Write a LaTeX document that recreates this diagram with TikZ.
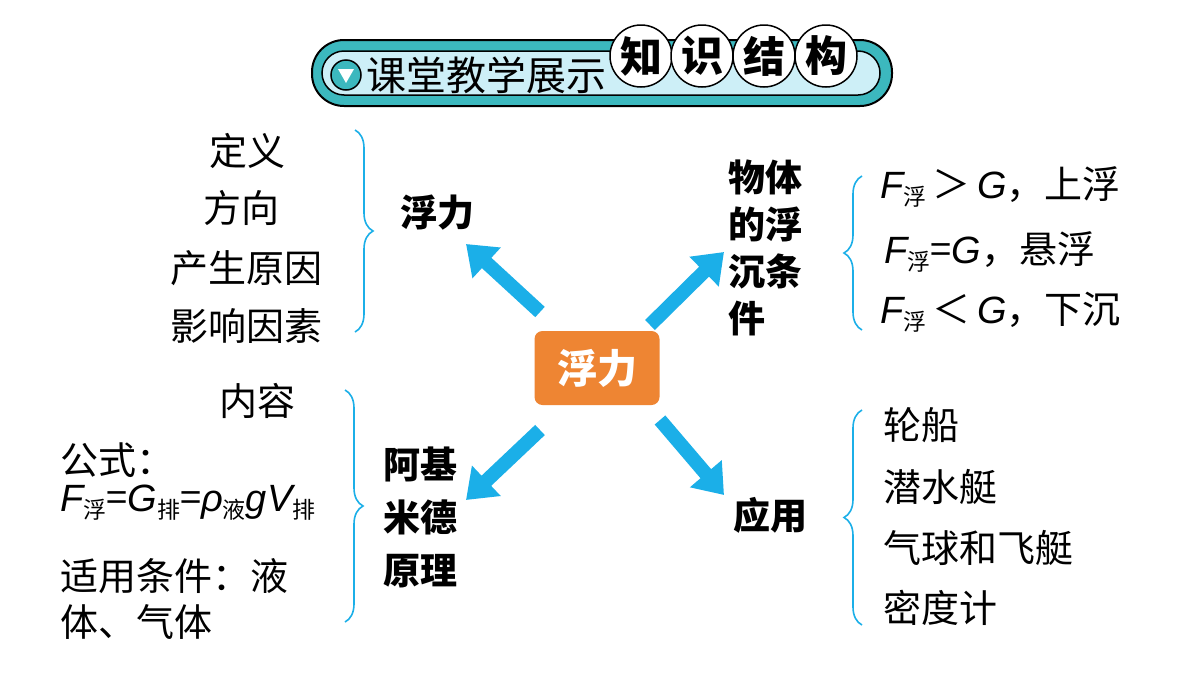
\documentclass[tikz,border=0pt]{standalone}
\usepackage{fontspec}
\setmainfont{Noto Sans CJK SC}
\newfontfamily\lat{Liberation Sans}
\usetikzlibrary{arrows.meta,decorations.pathreplacing}
\definecolor{teal1}{HTML}{3CB8BE}
\definecolor{lblue}{HTML}{CDEFF7}
\definecolor{cy}{HTML}{1BAFE8}
\definecolor{org}{HTML}{EE8533}
\newcommand{\sbx}[1]{\raisebox{-7pt}{\fontsize{23}{23}\selectfont #1}}
\newcommand{\Fv}{{\lat\itshape F}}
\newcommand{\Gv}{{\lat\itshape G}}
\begin{document}
\begin{tikzpicture}[x=1pt,y=-1pt,
  txt/.style={font=\fontsize{38}{40}\selectfont,inner sep=0},
  bold/.style={font=\fontsize{37}{40}\selectfont\bfseries,inner sep=0},
  arr/.style={cy,line width=14pt,-{Triangle[width=40pt,length=28pt]}},
  brc/.style={decorate,decoration={brace,amplitude=18pt},line width=1.6pt,cy},
  kc/.style={circle,draw=black,line width=1.5pt,fill=white,minimum size=62pt,inner sep=0,font=\fontsize{42}{42}\selectfont\bfseries}]
\path[use as bounding box,fill=white] (0,0) rectangle (1200,675);
% header
\draw[fill=teal1,line width=2pt,rounded corners=32pt] (312,40) rectangle (892,106);
\draw[fill=lblue,line width=1.5pt,rounded corners=22pt] (322,51) rectangle (880,95);
\node[circle,draw=black,line width=1.5pt,fill=teal1,minimum size=30pt,inner sep=0] (tri) at (346,75) {};
\fill[white] (338,69) -- (354,69) -- (346,83) -- cycle;
\node[txt,font=\fontsize{40}{40}\selectfont,anchor=west] (hd) at (366,75) {课堂教学展示};
\node[kc] (k1) at (641,56) {知};
\node[kc] (k2) at (702,56) {识};
\node[kc] (k3) at (764,56) {结};
\node[kc] (k4) at (826,56) {构};
% center
\node[fill=org,rounded corners=8pt,minimum width=125pt,minimum height=74pt,text=white,font=\fontsize{40}{40}\selectfont\bfseries] (c) at (597,368) {浮力};
\coordinate (a1s) at (540,312); \coordinate (a1e) at (466,244);
\coordinate (a2s) at (650,325); \coordinate (a2e) at (724,252);
\coordinate (a3s) at (540,430); \coordinate (a3e) at (466,500);
\coordinate (a4s) at (660,420); \coordinate (a4e) at (724,495);
\draw[arr] (a1s) -- (a1e);
\draw[arr] (a2s) -- (a2e);
\draw[arr] (a3s) -- (a3e);
\draw[arr] (a4s) -- (a4e);
% branch titles
\node[bold] (b1) at (437,213) {浮力};
\node[bold,align=left,anchor=north west,font=\fontsize{37}{47}\selectfont\bfseries] (b2) at (728,160) {物体\\的浮\\沉条\\件};
\node[bold,align=left,font=\fontsize{37}{53}\selectfont\bfseries] (b3) at (420,517) {阿基\\米德\\原理};
\node[bold] (b4) at (770,515) {应用};
% braces
\draw[brc] (355,130) -- (355,332);
\draw[brc] (862,330) -- (862,176);
\draw[brc] (345,390) -- (345,622);
\draw[brc] (862,625) -- (862,410);
% left top
\node[txt] (l1) at (247,151) {定义};
\node[txt] (l2) at (241,208) {方向};
\node[txt] (l3) at (246,268) {产生原因};
\node[txt] (l4) at (246,326) {影响因素};
% right top
\node[txt,anchor=west] (r1) at (880,187) {\Fv\sbx{浮}\,＞\,\Gv，上浮};
\node[txt,anchor=west] (r2) at (884,252) {\Fv\sbx{浮}=\Gv，悬浮};
\node[txt,anchor=west] (r3) at (880,312) {\Fv\sbx{浮}\,＜\,\Gv，下沉};
% left bottom
\node[txt] (m1) at (257,401) {内容};
\node[txt,anchor=west] (m2) at (60,460) {公式：};
\node[txt,anchor=west] (m3) at (60,503) {\Fv\sbx{浮}=\Gv\sbx{排}={\lat\itshape ρ}\sbx{液}{\lat\itshape gV}\sbx{排}};
\node[txt,anchor=west] (m4) at (60,576) {适用条件：液};
\node[txt,anchor=west] (m5) at (60,622) {体、气体};
% right bottom
\node[txt,anchor=west] (n1) at (883,425) {轮船};
\node[txt,anchor=west] (n2) at (883,487) {潜水艇};
\node[txt,anchor=west] (n3) at (883,548) {气球和飞艇};
\node[txt,anchor=west] (n4) at (883,608) {密度计};
\end{tikzpicture}
\end{document}
